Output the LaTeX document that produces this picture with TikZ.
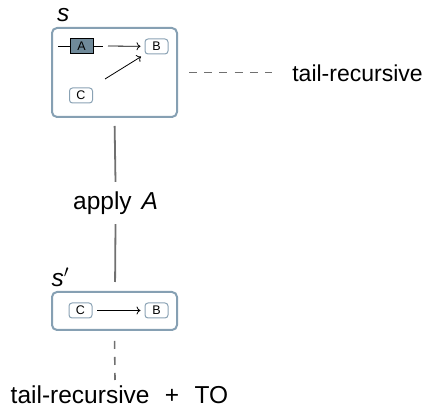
\documentclass[tikz,border=0pt]{standalone}
\usepackage{fontspec}
\setmainfont{Liberation Sans}
\usetikzlibrary{arrows.meta}
\definecolor{frameblue}{HTML}{86A0B3}
\definecolor{chipblue}{HTML}{8AA2B4}
\definecolor{slatefill}{HTML}{6F8999}
\definecolor{linegray}{HTML}{707070}
\tikzset{
  state/.style={draw=frameblue, line width=2pt, rounded corners=5pt, inner sep=0pt},
  chip/.style={draw=chipblue, line width=1pt, rounded corners=3pt, inner sep=0pt,
    minimum width=23pt, minimum height=15pt, font=\fontsize{12.5}{14}\selectfont},
  hole/.style={draw=black, fill=slatefill, line width=0.9pt, inner sep=0pt,
    minimum width=23pt, minimum height=15pt, font=\fontsize{12.5}{14}\selectfont},
  ref/.style={draw=black, line width=0.8pt},
  bigtext/.style={inner sep=0pt, font=\fontsize{23}{27}\selectfont},
  labeltext/.style={inner sep=0pt, font=\fontsize{24.5}{28}\selectfont},
  link/.style={draw=linegray, line width=1.8pt},
  dlink/.style={draw=linegray, line width=1.6pt, dash pattern=on 8pt off 8pt},
}
\begin{document}
\begin{tikzpicture}[x=1pt, y=-1pt]
  \useasboundingbox (0,0) rectangle (440,411);

  % state s
  \node[state, minimum width=125pt, minimum height=89pt] (s) at (114.5,72.5) {};
  \node[labeltext, anchor=base west] (slabel) at (57,22) {\textit{s}};
  \node[hole] (A) at (81.5,46) {A};
  \node[chip] (B) at (156.5,46.5) {B};
  \node[chip] (C) at (81,95.5) {C};
  \coordinate (in) at (58,46);
  \coordinate (gapL) at (103,46);
  \coordinate (gapR) at (108,46);
  \coordinate (cfrom) at (105,79);
  \draw[ref] (in) -- (A);
  \draw[ref] (A) -- (gapL);
  \draw[ref, -{To[length=4pt,width=8pt]}, shorten >=4pt] (gapR) -- (B);
  \draw[ref, -{To[length=4pt,width=8pt]}, shorten >=4pt] (cfrom) -- (B.south west);

  % side note
  \node[bigtext] (tailrec) at (357.5,73) {tail-recursive};
  \draw[draw=linegray, line width=1pt, dash pattern=on 8pt off 7.2pt,
        shorten <=11pt, shorten >=20pt] (s.east |- tailrec) -- (tailrec.west);

  % step
  \node[labeltext, minimum height=42pt] (apply) at (115.5,203) {apply\hspace{0.4em}\textit{A}};
  \draw[link, shorten <=8pt] (s.south) -- (apply.north);
  \draw[link, shorten >=10pt] (apply.south) -- (115,292);

  % state s'
  \node[state, minimum width=125pt, minimum height=38pt] (sp) at (114.5,311) {};
  \node[labeltext, anchor=base west] (splabel) at (51.5,287) {\textit{s}$'$};
  \node[chip] (C2) at (80.5,310.5) {C};
  \node[chip] (B2) at (156.5,310.5) {B};
  \draw[ref, -{To[length=4pt,width=8pt]}, shorten <=4.5pt, shorten >=4pt] (C2) -- (B2);

  % result note
  \node[labeltext] (tailto) at (119.5,395)
    {tail-recursive\hspace{0.35em} +\hspace{0.35em} TO};
  \draw[dlink, shorten <=10pt] (sp.south) -- (115,380);
\end{tikzpicture}
\end{document}
